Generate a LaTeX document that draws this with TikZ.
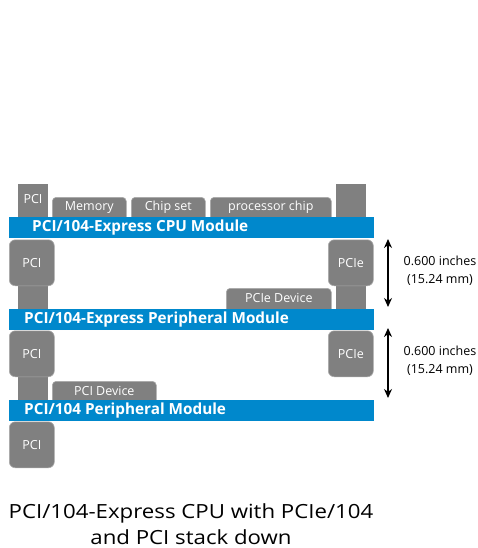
\documentclass[tikz,border=0pt]{standalone}
\usepackage{fontspec}
\setmainfont{Open Sans}
\newfontfamily\capfont[FakeStretch=1.14]{Open Sans}
\usetikzlibrary{arrows.meta,calc}
\definecolor{boxgray}{RGB}{128,128,128}
\definecolor{boxedge}{RGB}{170,170,170}
\definecolor{barblue}{RGB}{0,136,204}
\begin{document}
\begin{tikzpicture}[x=1pt,y=-1pt,
  stub/.style={fill=boxgray, anchor=north west, inner sep=0, minimum width=30},
  dev/.style={fill=boxgray, draw=boxedge, line width=0.6, rounded corners=4, anchor=north west, inner sep=0, minimum height=25},
  big/.style={fill=boxgray, draw=boxedge, line width=0.6, rounded corners=6, anchor=north west, inner sep=0, minimum width=45, minimum height=46, text=white, font=\fontsize{12.5}{14}\selectfont},
  gtext/.style={text=white, font=\fontsize{12.5}{14}\selectfont, inner sep=0},
  bar/.style={fill=barblue, anchor=north west, inner sep=0, minimum width=365, minimum height=21},
  bartext/.style={text=white, font=\fontsize{15.3}{16}\selectfont\bfseries, anchor=west, inner sep=0},
  dim/.style={{Stealth[length=9pt,width=8pt]}-{Stealth[length=9pt,width=8pt]}, line width=1.4, black},
  dimtext/.style={align=center, font=\fontsize{12.5}{18}\selectfont, inner sep=0},
]
\useasboundingbox (0,0) rectangle (478,548);

% --- above CPU module
\node[stub, minimum height=34] (stubA) at (18,184) {};
\node[gtext] (stubAtext) at (33,199) {PCI};
\node[dev, minimum width=74, label={[gtext,yshift=2.5]center:Memory}] (mem) at (52,197) {};
\node[dev, minimum width=74, label={[gtext,yshift=2.5]center:Chip set}] (chip) at (131,197) {};
\node[dev, minimum width=121, label={[gtext,yshift=2.5]center:processor chip}] (proc) at (210,197) {};
\node[stub, minimum height=34] (stubB) at (336,184) {};

% --- between CPU module and peripheral module
\node[stub, minimum height=25] (stubC) at (18,285) {};
\node[stub, minimum height=25] (stubD) at (336,285) {};
\node[dev, minimum width=105, label={[gtext,yshift=2.5]center:PCIe Device}] (pcied) at (226,288) {};

% --- between peripheral modules
\node[stub, minimum height=25] (stubE) at (18,376) {};
\node[dev, minimum width=104, label={[gtext,yshift=2.5]center:PCI Device}] (pcid) at (52,381) {};

% --- bars
\node[bar] (bar1) at (9,217) {};
\node[bartext] (bar1t) at (32,228) {PCI/104-Express CPU Module};
\node[bar] (bar2) at (9,309) {};
\node[bartext] (bar2t) at (24,319.5) {PCI/104-Express Peripheral Module};
\node[bar] (bar3) at (9,400) {};
\node[bartext] (bar3t) at (24,410.5) {PCI/104 Peripheral Module};

% --- connectors below bars
\node[big] (pci1) at (9,239.5) {PCI};
\node[big] (pcie1) at (328,239.5) {PCIe};
\node[big] (pci2) at (9,330.5) {PCI};
\node[big] (pcie2) at (328,330.5) {PCIe};
\node[big] (pci3) at (9,421.5) {PCI};

% --- dimensions
\coordinate (d1t) at (388,239);
\coordinate (d1b) at (388,307);
\coordinate (d2t) at (388,328);
\coordinate (d2b) at (388,398);
\draw[dim] (d1t) -- (d1b);
\draw[dim] (d2t) -- (d2b);
\node[dimtext] (dim1) at (440,271) {0.600 inches\\(15.24 mm)};
\node[dimtext] (dim2) at (440,361) {0.600 inches\\(15.24 mm)};

% --- caption
\node[align=center, font=\capfont\fontsize{19.5}{26}\selectfont, inner sep=0, anchor=base] (cap) at (191,544.5) {PCI/104-Express CPU with PCIe/104\\and PCI stack down};
\end{tikzpicture}
\end{document}
